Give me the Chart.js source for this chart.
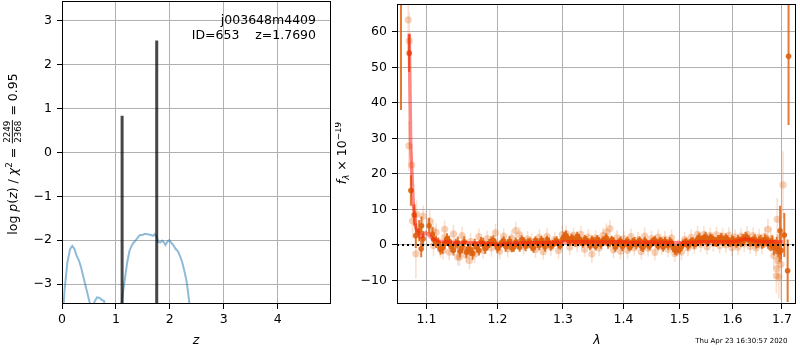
<!DOCTYPE html>
<html>
<head>
<meta charset="utf-8">
<script src="https://cdn.jsdelivr.net/npm/chart.js@4/dist/chart.umd.min.js"></script>
<style>
  body { margin: 0; background: #fff; }
  #wrap { position: relative; width: 800px; height: 350px; overflow: hidden; }
  #pz { position: absolute; left: 0; top: 0; }
  #spec { position: absolute; left: 335px; top: 0; }
</style>
</head>
<body>
<div id="wrap">
  <canvas id="pz" width="340" height="350"></canvas>
  <canvas id="spec" width="465" height="350"></canvas>
</div>
<script>
// ---- left panel: log p(z) ----
const zGrid = [0.00, 0.05, 0.10, 0.15, 0.19, 0.23, 0.27, 0.31, 0.35, 0.39,
  0.43, 0.47, 0.52, 0.57, 0.61, 0.65, 0.70, 0.74, 0.78, 0.80,
  0.85, 1.05, 1.09, 1.13, 1.17, 1.21, 1.25, 1.29, 1.33, 1.37,
  1.41, 1.45, 1.49, 1.53, 1.57, 1.61, 1.65, 1.69, 1.72, 1.76,
  1.78, 1.82, 1.86, 1.89, 1.92, 1.95, 1.99, 2.03, 2.07, 2.11,
  2.15, 2.19, 2.23, 2.27, 2.31, 2.34, 2.37, 2.40];
const logPz = [-4.0, -3.1, -2.5, -2.2, -2.13, -2.2, -2.35, -2.45, -2.6, -2.8,
  -3.0, -3.2, -3.45, -3.5, -3.38, -3.3, -3.31, -3.36, -3.38, -3.6,
  -4.5, -4.5, -3.6, -3.2, -2.85, -2.5, -2.25, -2.13, -2.05, -2.0,
  -1.93, -1.88, -1.88, -1.86, -1.86, -1.87, -1.88, -1.90, -1.86, -1.93,
  -2.04, -2.05, -2.01, -2.05, -2.11, -2.04, -2.0, -2.06, -2.12, -2.2,
  -2.25, -2.36, -2.5, -2.7, -2.92, -3.2, -3.5, -4.5];
const peakZ = [1.115, 1.757];
const peakTop = [0.83, 2.54];
const zTicks = [0, 1, 2, 3, 4];
const pzTicks = [-3, -2, -1, 0, 1, 2, 3];

// ---- right panel: spectrum ----
const darkWave = [1.0662, 1.0770, 1.0792, 1.0836, 1.0857, 1.0902, 1.0929, 1.0933, 1.0955, 1.1035, 1.1080,
  1.110, 1.116, 1.122, 1.128, 1.134, 1.140, 1.146, 1.152, 1.158, 1.164,
  1.170, 1.176, 1.182, 1.188, 1.194, 1.200, 1.206, 1.212, 1.218, 1.224,
  1.230, 1.236, 1.242, 1.248, 1.254, 1.260, 1.266, 1.272, 1.278, 1.284,
  1.290, 1.296, 1.302, 1.308, 1.314, 1.320, 1.326, 1.332, 1.338, 1.344,
  1.350, 1.356, 1.362, 1.368, 1.374, 1.380, 1.386, 1.392, 1.398, 1.404,
  1.410, 1.416, 1.422, 1.428, 1.434, 1.440, 1.446, 1.452, 1.458, 1.464,
  1.470, 1.476, 1.482, 1.488, 1.494, 1.500, 1.506, 1.512, 1.518, 1.524,
  1.530, 1.536, 1.542, 1.548, 1.554, 1.560, 1.566, 1.572, 1.578, 1.584,
  1.590, 1.596, 1.602, 1.608, 1.614, 1.620, 1.626, 1.632, 1.638, 1.644,
  1.650, 1.656, 1.662, 1.668, 1.674, 1.680, 1.686, 1.692, 1.698,
  1.113, 1.119, 1.125, 1.131, 1.137, 1.143, 1.149, 1.155, 1.161, 1.167,
  1.173, 1.179, 1.185, 1.191, 1.197, 1.203, 1.209, 1.215, 1.221, 1.227,
  1.233, 1.239, 1.245, 1.251, 1.257, 1.263, 1.269, 1.275, 1.281, 1.287,
  1.293, 1.299, 1.305, 1.311, 1.317, 1.323, 1.329, 1.335, 1.341, 1.347,
  1.353, 1.359, 1.365, 1.371, 1.377, 1.383, 1.389, 1.395, 1.401, 1.407,
  1.413, 1.419, 1.425, 1.431, 1.437, 1.443, 1.449, 1.455, 1.461, 1.467,
  1.473, 1.479, 1.485, 1.491, 1.497, 1.503, 1.509, 1.515, 1.521, 1.527,
  1.533, 1.539, 1.545, 1.551, 1.557, 1.563, 1.569, 1.575, 1.581, 1.587,
  1.593, 1.599, 1.605, 1.611, 1.617, 1.623, 1.629, 1.635, 1.641, 1.647,
  1.653, 1.659, 1.665, 1.671, 1.677, 1.683, 1.689, 1.695,
  1.6960, 1.7048, 1.7118, 1.7137];
const darkFlux = [85, 54.0, 15.3, 8.4, 2.6, 4.0, -1.1, 5.4, 1.7, 5.4, 3.0,
  1.5, 0.5, -0.8, 1.8, -0.5, 0.3, -1.8, 0.9, -1.2, -2.4,
  -0.6, 0.8, -1.0, 0.4, 1.2, -0.9, 0.6, -0.4, 1.0, -0.7,
  0.2, 1.4, -0.3, 0.9, -0.8, 0.5, 1.3, -0.5, 0.7, 0.1,
  1.1, -0.2, 2.2, 1.5, 2.0, 0.8, 1.7, 0.4, 1.2, -0.3,
  0.9, 1.6, 0.2, 1.0, 0.3, 1.4, -0.6, 0.7, -0.4, 0.6,
  -0.5, 0.8, 0.1, 1.2, -0.7, 0.5, -0.2, 1.0, 0.3, 1.1,
  -0.6, 0.4, 0.9, -0.8, -1.6, -1.2, 0.2, 0.8, 0.3, 1.0,
  0.6, 2.0, 1.4, 2.3, 1.1, 1.8, 0.9, 1.6, 2.1, 0.8,
  1.5, 0.6, 1.2, 0.4, 1.0, 1.7, 2.3, 1.5, 0.9, 1.6,
  0.5, 1.3, 0.7, 1.1, 0.2, 0.9, -0.5, -1.2, -1.5,
  0.8, -1.2, 0.4, 1.0, -1.5, 0.6, -0.9, -2.0, -1.5, 0.2,
  -1.6, 0.5, -0.3, 1.0, 0.3, -0.2, 1.1, 0.2, -0.8, 0.7,
  -0.6, 1.0, 0.4, -0.4, 1.2, -0.2, 0.6, 1.4, -0.3, 0.8,
  0.3, 1.6, 2.6, 1.0, 1.4, 2.4, 0.9, 1.5, 0.5, 1.3,
  -0.4, 0.8, 1.2, 2.0, 0.6, 0.9, 0.0, 1.1, 0.2, 1.0,
  -0.3, 0.9, 0.6, -0.4, 1.1, 0.0, 0.7, 1.3, -0.3, 0.8,
  1.0, -0.1, 0.5, -1.4, -0.9, -0.4, 0.6, -0.2, 0.9, 0.2,
  1.6, 1.0, 1.8, 0.7, 2.0, 1.2, 0.6, 1.4, 1.0, 1.9,
  0.7, 1.4, 0.8, 1.5, 0.6, 1.2, 2.0, 0.8, 1.2, 0.3,
  1.0, 0.4, 1.4, 0.6, 0.1, -0.8, -0.2, -2.0,
  4.0, 2.8, -7.3, 53.1];
const darkErr = [47, 5.3, 4.3, 3.0, 3.5, 3.0, 2.4, 2.6, 2.2, 2.2, 2.0,
  1.8, 1.6, 1.7, 1.5, 1.6, 1.4, 1.7, 1.5, 1.6, 1.8,
  1.5, 1.4, 1.6, 1.3, 1.5, 1.4, 1.3, 1.5, 1.4, 1.3,
  1.4, 1.3, 1.5, 1.2, 1.4, 1.3, 1.2, 1.4, 1.3, 1.2,
  1.3, 1.2, 1.4, 1.3, 1.2, 1.3, 1.4, 1.2, 1.3, 1.2,
  1.3, 1.2, 1.3, 1.2, 1.4, 1.2, 1.3, 1.2, 1.3, 1.2,
  1.3, 1.2, 1.3, 1.2, 1.3, 1.2, 1.3, 1.2, 1.3, 1.2,
  1.3, 1.2, 1.3, 1.3, 1.4, 1.4, 1.3, 1.2, 1.3, 1.2,
  1.3, 1.4, 1.3, 1.4, 1.3, 1.2, 1.3, 1.2, 1.3, 1.2,
  1.3, 1.2, 1.3, 1.2, 1.3, 1.4, 1.3, 1.2, 1.3, 1.4,
  1.4, 1.5, 1.5, 1.6, 1.7, 1.8, 2.0, 2.3, 2.6,
  1.7, 1.6, 1.5, 1.6, 1.5, 1.7, 1.5, 1.6, 1.7, 1.5,
  1.4, 1.5, 1.3, 1.4, 1.3, 1.4, 1.3, 1.4, 1.3, 1.4,
  1.3, 1.2, 1.4, 1.3, 1.2, 1.3, 1.4, 1.2, 1.3, 1.2,
  1.3, 1.2, 1.4, 1.3, 1.2, 1.3, 1.2, 1.3, 1.2, 1.3,
  1.2, 1.3, 1.2, 1.3, 1.2, 1.3, 1.2, 1.3, 1.2, 1.3,
  1.2, 1.3, 1.2, 1.3, 1.2, 1.3, 1.2, 1.3, 1.2, 1.3,
  1.2, 1.3, 1.2, 1.4, 1.3, 1.3, 1.2, 1.3, 1.2, 1.3,
  1.2, 1.3, 1.2, 1.3, 1.2, 1.3, 1.2, 1.3, 1.2, 1.3,
  1.2, 1.3, 1.2, 1.3, 1.2, 1.3, 1.2, 1.3, 1.2, 1.3,
  1.5, 1.5, 1.6, 1.7, 1.9, 2.1, 2.4, 2.8,
  7.0, 6.2, 8.8, 19.3];

const lightWave = [1.0757, 1.0770, 1.0766, 1.0801, 1.0814, 1.0867, 1.0858, 1.0955, 1.1044, 1.1089, 1.1095,
  1.1224, 1.1248, 1.1454, 1.1594,
  1.113, 1.119, 1.125, 1.131, 1.137, 1.143, 1.149, 1.155, 1.161, 1.167,
  1.173, 1.179, 1.185, 1.191, 1.197, 1.203, 1.209, 1.215, 1.221, 1.227,
  1.233, 1.239, 1.245, 1.251, 1.257, 1.263, 1.269, 1.275, 1.281, 1.287,
  1.293, 1.299, 1.305, 1.311, 1.317, 1.323, 1.329, 1.335, 1.341, 1.347,
  1.353, 1.359, 1.365, 1.371, 1.377, 1.383, 1.389, 1.395, 1.401, 1.407,
  1.413, 1.419, 1.425, 1.431, 1.437, 1.443, 1.449, 1.455, 1.461, 1.467,
  1.473, 1.479, 1.485, 1.491, 1.497, 1.503, 1.509, 1.515, 1.521, 1.527,
  1.533, 1.539, 1.545, 1.551, 1.557, 1.563, 1.569, 1.575, 1.581, 1.587,
  1.593, 1.599, 1.605, 1.611, 1.617, 1.623, 1.629, 1.635, 1.641, 1.647,
  1.653, 1.659, 1.665, 1.671, 1.677, 1.683, 1.689, 1.695,
  1.6883, 1.6900, 1.6915, 1.6935, 1.6975, 1.7021];
const lightFlux = [63.4, 57.5, 27.9, 22.5, 6.8, 8.6, -2.5, 8.1, 6.8, 4.0, -0.2,
  -1.6, 4.4, -3.4, -4.4,
  3.5, -1.2, 2.2, -2.0, 3.1, -3.4, 2.6, -2.9, 0.9, -2.6,
  2.3, -1.5, 1.8, -0.9, 3.4, -1.8, 2.5, -1.1, 1.9, 4.0,
  2.8, -0.5, 1.6, 1.0, -1.3, 2.1, -1.9, 2.4, -0.7, 1.5,
  -1.6, 2.9, 3.2, -0.6, 2.7, 0.3, 3.0, -1.2, 2.2, -2.6,
  1.9, -0.9, 2.6, 3.6, 4.6, -1.4, 2.0, -1.8, 1.7, -1.5,
  2.3, -0.8, 1.4, -1.9, 2.5, -1.0, 1.8, -2.1, 2.2, -0.4,
  1.6, -1.2, 2.0, -2.4, -0.6, -2.0, 1.5, -0.9, 2.1, -0.3,
  3.0, 0.2, 2.9, -0.5, 2.6, 0.4, 2.8, -0.2, 2.4, 0.0,
  2.7, -0.8, 2.2, -0.6, 2.5, 0.3, 3.0, -0.4, 2.6, -0.9,
  2.1, -0.1, 2.4, 4.4, 1.7, -3.0, -6.7, 2.1,
  -8.7, 7.2, -4.4, -9.0, -5.5, 16.9];
const lightErr = [9, 8, 7, 6, 5, 4, 7, 3, 3, 3, 3,
  2.5, 2.5, 2.5, 2.5,
  2.6, 2.4, 2.5, 2.3, 2.6, 2.4, 2.5, 2.3, 2.4, 2.6,
  2.3, 2.4, 2.2, 2.4, 2.5, 2.3, 2.2, 2.4, 2.3, 2.5,
  2.2, 2.4, 2.3, 2.2, 2.4, 2.3, 2.2, 2.4, 2.3, 2.2,
  2.3, 2.4, 2.2, 2.3, 2.2, 2.4, 2.3, 2.2, 2.3, 2.4,
  2.2, 2.3, 2.2, 2.4, 2.5, 2.3, 2.2, 2.3, 2.2, 2.4,
  2.3, 2.2, 2.3, 2.2, 2.4, 2.3, 2.2, 2.3, 2.2, 2.4,
  2.3, 2.2, 2.3, 2.4, 2.2, 2.3, 2.2, 2.4, 2.3, 2.2,
  2.3, 2.2, 2.4, 2.3, 2.2, 2.3, 2.4, 2.2, 2.3, 2.2,
  2.3, 2.4, 2.2, 2.3, 2.2, 2.4, 2.3, 2.2, 2.4, 2.3,
  2.4, 2.5, 2.6, 3.0, 3.2, 3.8, 4.5, 5.0,
  5, 6, 5, 6, 10, 9.5];

const modelWave = [1.0770, 1.0789, 1.0822, 1.0858, 1.0918, 1.0960, 1.0990, 1.1030, 1.1080, 1.1170,
  1.130, 1.1408, 1.16, 1.18, 1.195, 1.205, 1.215, 1.24, 1.27, 1.30,
  1.33, 1.36, 1.39, 1.42, 1.45, 1.48, 1.51, 1.54, 1.57, 1.60,
  1.615, 1.625, 1.635, 1.645, 1.67, 1.69, 1.702];
const modelFlux = [59.5, 28.0, 12.3, 4.9, 2.1, 2.8, 3.4, 2.8, 1.7, 1.0,
  0.8, 0.7, 0.6, 0.5, 0.2, 0.1, 0.4, 0.6, 0.6, 0.8,
  0.9, 0.8, 0.9, 0.7, 0.8, 0.7, 0.6, 0.9, 0.9, 0.9,
  1.2, 1.7, 1.4, 1.0, 0.9, 0.9, 0.9];
const zeroWave = [1.061, 1.725];
const zeroFlux = [0, 0];
const lamTicks = [1.1, 1.2, 1.3, 1.4, 1.5, 1.6, 1.7];
const fluxTicks = [-10, 0, 10, 20, 30, 40, 50, 60];

const stamp = "Thu Apr 23 16:30:57 2020";

Chart.defaults.font.family = "'DejaVu Sans', sans-serif";
Chart.defaults.font.size = 12.5;
Chart.defaults.color = "#000";
Chart.defaults.animation = false;

const NORM = "12.5px 'DejaVu Sans'";
const ITAL = "italic 12.5px 'DejaVu Sans'";
const SMALL = "8.75px 'DejaVu Sans'";
const SMALL_IT = "italic 8.75px 'DejaVu Sans'";

function pairs(xs, ys) {
  return xs.map((x, i) => ({ x: x, y: ys[i] }));
}

function errorSegments(xs, ys, es) {
  const out = [];
  xs.forEach((x, i) => {
    out.push({ x: x, y: ys[i] - es[i] }, { x: x, y: ys[i] + es[i] }, { x: x, y: null });
  });
  return out;
}

function vlines(xs, tops, bottom) {
  const out = [];
  xs.forEach((x, i) => {
    out.push({ x: x, y: bottom }, { x: x, y: tops[i] }, { x: x, y: null });
  });
  return out;
}

const minus = (v) => (v < 0 ? "\u2212" + Math.abs(v) : String(v));

// text made of pieces with different fonts, drawn centred on (x, y)
function richText(ctx, parts, x, y, angle) {
  ctx.save();
  ctx.translate(x, y);
  ctx.rotate(angle);
  let total = 0;
  parts.forEach((p) => {
    ctx.font = p.font;
    if (p.frac) p.w = Math.max(ctx.measureText(p.frac[0]).width, ctx.measureText(p.frac[1]).width) + 2;
    else p.w = ctx.measureText(p.text).width;
    total += p.w;
  });
  let cx = -total / 2;
  ctx.fillStyle = "#000";
  ctx.textBaseline = "alphabetic";
  parts.forEach((p) => {
    ctx.font = p.font;
    if (p.frac) {
      ctx.textAlign = "center";
      ctx.fillText(p.frac[0], cx + p.w / 2, -6.2);
      ctx.fillText(p.frac[1], cx + p.w / 2, 4.4);
      ctx.fillRect(cx + 0.5, -4.6, p.w - 1, 0.9);
    } else {
      ctx.textAlign = "left";
      ctx.fillText(p.text, cx, p.dy || 0);
    }
    cx += p.w;
  });
  ctx.restore();
}

const frame = {
  id: "frame",
  afterDraw(chart) {
    const a = chart.chartArea;
    const ctx = chart.ctx;
    ctx.save();
    ctx.strokeStyle = "#000";
    ctx.lineWidth = 1;
    ctx.strokeRect(a.left + 0.5, a.top + 0.5, a.right - a.left - 1, a.bottom - a.top - 1);
    ctx.restore();
  },
};

function axisX(opts) {
  return Object.assign({
    grid: { color: "#b0b0b0", lineWidth: 1, tickColor: "#000", tickLength: 5, tickWidth: 1 },
    border: { display: false },
    afterFit: (s) => { s.height = 46; s.paddingLeft = 0; s.paddingRight = 0; },
  }, opts);
}

function axisY(opts) {
  return Object.assign({
    grid: { color: "#b0b0b0", lineWidth: 1, tickColor: "#000", tickLength: 5, tickWidth: 1 },
    border: { display: false },
    afterFit: (s) => { s.width = 62; s.paddingTop = 0; s.paddingBottom = 0; },
  }, opts);
}

const leftText = {
  id: "leftText",
  afterDraw(chart) {
    const ctx = chart.ctx;
    ctx.save();
    ctx.fillStyle = "#000";
    ctx.font = NORM;
    ctx.textAlign = "right";
    ctx.fillText("j003648m4409", 316, 23.5);
    ctx.fillText("ID=653    z=1.7690", 316, 38.5);
    ctx.font = ITAL;
    ctx.textAlign = "center";
    ctx.fillText("z", 196, 344);
    ctx.restore();
    richText(ctx, [
      { text: "log ", font: NORM },
      { text: "p", font: ITAL },
      { text: "(", font: NORM },
      { text: "z", font: ITAL },
      { text: ") / ", font: NORM },
      { text: "\u03c7", font: ITAL },
      { text: "2", font: SMALL, dy: -5 },
      { text: " = ", font: NORM },
      { frac: ["2249", "2368"], font: SMALL },
      { text: " = 0.95", font: NORM },
    ], 16.5, 154, -Math.PI / 2);
  },
};

new Chart(document.getElementById("pz"), {
  type: "scatter",
  data: {
    datasets: [
      {
        data: vlines(peakZ, peakTop, -5),
        showLine: true,
        borderColor: "rgba(0,0,0,0.72)",
        borderWidth: 3,
        pointRadius: 0,
        spanGaps: false,
        clip: 0,
      },
      {
        data: pairs(zGrid, logPz),
        showLine: true,
        borderColor: "rgba(31,119,180,0.5)",
        borderWidth: 2,
        pointRadius: 0,
        clip: 0,
      },
    ],
  },
  options: {
    responsive: false,
    events: [],
    layout: { padding: { left: 0, top: 1, right: 9, bottom: 0 } },
    plugins: { legend: { display: false }, tooltip: { enabled: false } },
    scales: {
      x: axisX({
        type: "linear", min: 0, max: 4.99,
        afterBuildTicks: (s) => { s.ticks = zTicks.map((v) => ({ value: v })); },
        ticks: { padding: 3, autoSkip: false, maxRotation: 0, callback: (v) => minus(v) },
      }),
      y: axisY({
        type: "linear", min: -3.45, max: 3.44,
        afterBuildTicks: (s) => { s.ticks = pzTicks.map((v) => ({ value: v })); },
        ticks: { padding: 5, autoSkip: false, callback: (v) => minus(v) },
      }),
    },
  },
  plugins: [frame, leftText],
});

const rightText = {
  id: "rightText",
  afterDraw(chart) {
    const ctx = chart.ctx;
    ctx.save();
    ctx.fillStyle = "#000";
    ctx.font = ITAL;
    ctx.textAlign = "center";
    ctx.fillText("\u03bb", 262, 344);
    ctx.font = "7px 'DejaVu Sans'";
    ctx.textAlign = "right";
    ctx.fillText(stamp, 452.5, 342.5);
    ctx.restore();
    richText(ctx, [
      { text: "f", font: ITAL },
      { text: "\u03bb", font: SMALL_IT, dy: 2.5 },
      { text: " \u00d7 10", font: NORM },
      { text: "\u221219", font: SMALL, dy: -5 },
    ], 11, 153, -Math.PI / 2);
  },
};

new Chart(document.getElementById("spec"), {
  type: "scatter",
  data: {
    datasets: [
      {
        data: pairs(zeroWave, zeroFlux),
        showLine: true,
        borderColor: "#000",
        borderWidth: 2,
        borderDash: [2, 3],
        pointRadius: 0,
        clip: 0,
      },
      {
        data: pairs(modelWave, modelFlux),
        showLine: true,
        borderColor: "rgba(255,20,10,0.5)",
        borderWidth: 3.5,
        pointRadius: 0,
        clip: 0,
      },
      {
        data: pairs(darkWave, darkFlux),
        pointRadius: 2.8,
        pointBackgroundColor: "rgba(222,98,14,0.9)",
        pointBorderWidth: 0,
        clip: 0,
      },
      {
        data: errorSegments(darkWave, darkFlux, darkErr),
        showLine: true,
        spanGaps: false,
        borderColor: "rgba(222,100,18,0.85)",
        borderWidth: 2,
        pointRadius: 0,
        clip: 0,
      },
      {
        data: pairs(lightWave, lightFlux),
        pointRadius: 3.6,
        pointBackgroundColor: "rgba(230,112,35,0.32)",
        pointBorderWidth: 0,
        clip: 0,
      },
      {
        data: errorSegments(lightWave, lightFlux, lightErr),
        showLine: true,
        spanGaps: false,
        borderColor: "rgba(230,112,35,0.22)",
        borderWidth: 1.6,
        pointRadius: 0,
        clip: 0,
      },
    ],
  },
  options: {
    responsive: false,
    events: [],
    layout: { padding: { left: 0, top: 1, right: 1, bottom: 0 } },
    plugins: { legend: { display: false }, tooltip: { enabled: false } },
    scales: {
      x: axisX({
        type: "logarithmic", min: 1.061, max: 1.7294,
        afterBuildTicks: (s) => { s.ticks = lamTicks.map((v) => ({ value: v })); },
        ticks: { padding: 3, autoSkip: false, maxRotation: 0, callback: (v, i) => lamTicks[i].toFixed(1) },
      }),
      y: axisY({
        type: "linear", min: -16.65, max: 67.85,
        afterBuildTicks: (s) => { s.ticks = fluxTicks.map((v) => ({ value: v })); },
        ticks: { padding: 5, autoSkip: false, callback: (v) => minus(v) },
      }),
    },
  },
  plugins: [frame, rightText],
});
</script>
</body>
</html>
